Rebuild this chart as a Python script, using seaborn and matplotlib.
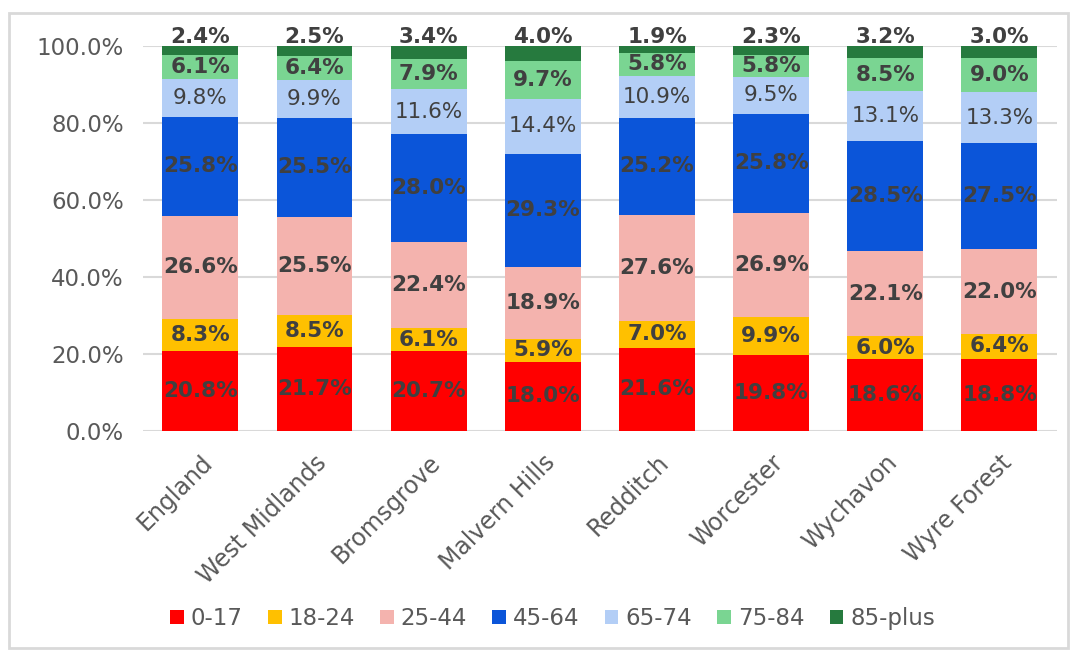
import numpy as np
import pandas as pd
import matplotlib.pyplot as plt
import seaborn as sns
from matplotlib.patches import Patch, Rectangle

# --- data (percent of population by age band) ---
regions = ["England", "West Midlands", "Bromsgrove", "Malvern Hills",
           "Redditch", "Worcester", "Wychavon", "Wyre Forest"]
age_bands = ["0-17", "18-24", "25-44", "45-64", "65-74", "75-84", "85-plus"]

age_0_17 = [20.8, 21.7, 20.7, 18.0, 21.6, 19.8, 18.6, 18.8]
age_18_24 = [8.3, 8.5, 6.1, 5.9, 7.0, 9.9, 6.0, 6.4]
age_25_44 = [26.6, 25.5, 22.4, 18.9, 27.6, 26.9, 22.1, 22.0]
age_45_64 = [25.8, 25.5, 28.0, 29.3, 25.2, 25.8, 28.5, 27.5]
age_65_74 = [9.8, 9.9, 11.6, 14.4, 10.9, 9.5, 13.1, 13.3]
age_75_84 = [6.1, 6.4, 7.9, 9.7, 5.8, 5.8, 8.5, 9.0]
age_85_plus = [2.4, 2.5, 3.4, 4.0, 1.9, 2.3, 3.2, 3.0]

colors = ["#FF0000", "#FFC000", "#F4B3AE", "#0B55D9",
          "#B3CEF6", "#7AD592", "#267A3E"]

series = [age_0_17, age_18_24, age_25_44, age_45_64,
          age_65_74, age_75_84, age_85_plus]
vals = np.array(series)               # shape (bands, regions)
share = vals / vals.sum(axis=0)       # 100% stacked
cum = np.cumsum(share, axis=0)

sns.set_style("white")
plt.rcParams["font.family"] = ["DejaVu Sans"]

fig, ax = plt.subplots(figsize=(10.77, 6.53), dpi=100)
fig.subplots_adjust(left=0.133, right=0.981, bottom=0.340, top=0.9296)

# draw tallest cumulative first, smaller ones on top -> stacked look
for i in range(len(age_bands) - 1, -1, -1):
    sns.barplot(x=regions, y=cum[i], color=colors[i], saturation=1,
                width=0.665, linewidth=0, order=regions, ax=ax, zorder=2)

# segment labels
text_col = "#404040"
for i, band in enumerate(age_bands):
    for j in range(len(regions)):
        lab = f"{vals[i, j]:.1f}%"
        if band == "85-plus":
            ax.annotate(lab, (j, 1.0), xytext=(0, 2), textcoords="offset points",
                        ha="center", va="baseline", fontsize=15.5,
                        fontweight="bold", color=text_col, zorder=5)
        else:
            y = cum[i, j] - share[i, j] / 2
            ax.text(j, y, lab, ha="center", va="center", fontsize=15.5,
                    fontweight="normal" if band == "65-74" else "bold",
                    color=text_col, zorder=5)

ax.set_xlim(-0.5, len(regions) - 0.5)
ax.set_ylim(0, 1.0)
ax.set_yticks(np.arange(0, 1.01, 0.2))
ax.set_yticklabels([f"{t * 100:.1f}%" for t in np.arange(0, 1.01, 0.2)])
ax.set_xlabel("")
ax.set_ylabel("")
ax.yaxis.grid(True, color="#D9D9D9", linewidth=1.5, zorder=0)
ax.set_axisbelow(True)
for s in ax.spines.values():
    s.set_visible(False)
ax.tick_params(axis="y", length=0, pad=14, labelsize=16.5, labelcolor="#595959")
ax.tick_params(axis="x", length=0, pad=14, labelsize=17, labelcolor="#595959")
plt.setp(ax.get_xticklabels(), rotation=45, ha="right", rotation_mode="anchor")

handles = [Patch(facecolor=c, edgecolor="none", label=b)
           for b, c in zip(age_bands, colors)]
fig.legend(handles=handles, loc="center", bbox_to_anchor=(0.513, 0.053),
           ncol=7, frameon=False, fontsize=16.5, labelcolor="#595959",
           handlelength=0.6, handleheight=0.6, handletextpad=0.3,
           columnspacing=1.1)

# light frame around the whole chart
fig.patches.append(Rectangle((0.008, 0.008), 0.984, 0.972, transform=fig.transFigure,
                             fill=False, edgecolor="#D9D9D9", linewidth=2))

plt.savefig("out.png", dpi=100)
plt.close()
